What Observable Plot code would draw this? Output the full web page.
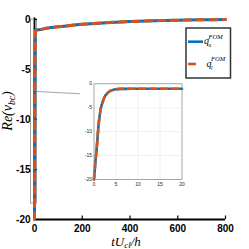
<!DOCTYPE html>
<html><head><meta charset="utf-8">
<script src="https://cdn.jsdelivr.net/npm/d3@7"></script>
<script src="https://cdn.jsdelivr.net/npm/@observablehq/plot@0.6"></script>
<style>
html,body{margin:0;padding:0;background:#fff;}
#wrap{position:relative;width:249px;height:249px;overflow:hidden;background:#fff;}
#wrap svg{position:absolute;}
</style></head><body><div id="wrap"></div>
<script>
const tVals  = [0, 0.25, 0.5, 0.75, 1, 1.25, 1.5, 2, 2.5, 3, 3.5, 4, 5, 6, 8, 10, 15, 20, 50, 100, 150, 200, 300, 400, 500, 600, 700, 800];
const quVals = [-20, -17.1, -14.6, -12.0, -9.0, -6.9, -5.4, -3.7, -2.6, -2.0, -1.6, -1.38, -1.15, -1.07, -1.05, -1.04, -1.03, -1.02, -0.88, -0.72, -0.6, -0.48, -0.32, -0.2, -0.12, -0.07, -0.03, -0.01];
const qlVals = [-20, -17.1, -14.6, -12.0, -9.0, -6.9, -5.4, -3.7, -2.6, -2.0, -1.6, -1.38, -1.15, -1.07, -1.05, -1.04, -1.03, -1.02, -0.88, -0.72, -0.6, -0.48, -0.32, -0.2, -0.12, -0.07, -0.03, -0.01];
const xTicks = [0, 200, 400, 600, 800];
const yTicks = [0, -5, -10, -15, -20];
const insetXTicks = [0, 5, 10, 15, 20];
const insetYTicks = [0, -5, -10, -15, -20];
const insetGridX = [5, 10, 15];
const insetGridY = [-5, -10, -15];
const legendSubs = ["u", "l"];
const legendSup = "FOM";
const zoomBox = [{t1: -15, t2: 10, v1: -18.4, v2: 0}];
const connT = [10, 248];
const connV = [-7.2, -7.5];

const blue = "#0072BD", orange = "#D95319";
const data = tVals.map((t, i) => ({t, qu: quVals[i], ql: qlVals[i]}));
const insetData = data.filter(d => d.t <= 20);
const conn = connT.map((t, i) => ({t, v: connV[i]}));

const wrap = document.getElementById("wrap");

const main = Plot.plot({
  width: 249, height: 249,
  marginLeft: 34, marginRight: 24, marginTop: 19, marginBottom: 30,
  style: {fontFamily: "Liberation Sans, Arial, sans-serif", fontSize: "10px", fontWeight: "bold", color: "#000", background: "transparent"},
  x: {domain: [0, 800]},
  y: {domain: [-20, 0]},
  marks: [
    Plot.rect(zoomBox, {x1: "t1", x2: "t2", y1: "v1", y2: "v2", fill: "none", stroke: "#8c8c8c", strokeWidth: 0.8}),
    Plot.line(conn, {x: "t", y: "v", stroke: "#8c8c8c", strokeWidth: 0.8}),
    Plot.ruleY([-20], {stroke: "#000", strokeWidth: 1.8}),
    Plot.ruleX([0], {stroke: "#000", strokeWidth: 1.8, y1: -20, y2: 0.15}),
    Plot.ruleY(yTicks, {y: d => d, x1: 0, x2: 12, stroke: "#000", strokeWidth: 1.2}),
    Plot.ruleX(xTicks, {x: d => d, y1: -20, y2: -19.65, stroke: "#000", strokeWidth: 1.2}),
    Plot.line(data, {x: "t", y: "qu", stroke: blue, strokeWidth: 3, curve: "monotone-x"}),
    Plot.line(data, {x: "t", y: "ql", stroke: orange, strokeWidth: 3, strokeDasharray: "7,6", curve: "monotone-x"}),
    Plot.axisX({ticks: xTicks, tickSize: 0, tickPadding: 5, tickFormat: d => String(d), label: null}),
    Plot.axisY({ticks: yTicks, tickSize: 0, tickPadding: 4, tickFormat: d => String(d), label: null})
  ]
});
main.style.left = "0px"; main.style.top = "0px";
wrap.appendChild(main);

const svg = d3.select(main);
const serif = "Liberation Serif, 'Times New Roman', serif";
// y label
const yl = svg.append("text")
  .attr("transform", "translate(12,111) rotate(-90)")
  .attr("text-anchor", "middle")
  .attr("font-family", serif).attr("font-style", "italic")
  .attr("font-weight", "normal").attr("font-size", 14).attr("fill", "#000");
yl.append("tspan").text("Re(");
yl.append("tspan").text("v");
yl.append("tspan").attr("font-size", 9.5).attr("dy", 3).text("bc");
yl.append("tspan").attr("dy", -3).text(")");
// x label
const xl = svg.append("text")
  .attr("x", 126).attr("y", 245.5)
  .attr("text-anchor", "middle")
  .attr("font-family", serif).attr("font-style", "italic")
  .attr("font-weight", "normal").attr("font-size", 13).attr("fill", "#000");
xl.append("tspan").text("tU");
xl.append("tspan").attr("font-size", 9).attr("dy", 2.5).text("cl");
xl.append("tspan").attr("dy", -2.5).text("/h");

// inset
const inset = Plot.plot({
  width: 110, height: 115,
  marginLeft: 13.5, marginRight: 8.5, marginTop: 8.3, marginBottom: 11,
  style: {fontFamily: "Liberation Sans, Arial, sans-serif", fontSize: "5px", color: "#262626", background: "#fff"},
  x: {domain: [0, 20]},
  y: {domain: [-20, 0]},
  marks: [
    Plot.ruleX(insetGridX, {stroke: "#e6e6e6", strokeWidth: 0.6}),
    Plot.ruleY(insetGridY, {stroke: "#e6e6e6", strokeWidth: 0.6}),
    Plot.line(insetData, {x: "t", y: "qu", stroke: blue, strokeWidth: 2.6, curve: "monotone-x"}),
    Plot.line(insetData, {x: "t", y: "ql", stroke: orange, strokeWidth: 2.6, strokeDasharray: "6,5", curve: "monotone-x"}),
    Plot.frame({stroke: "#7f7f7f", strokeWidth: 0.7}),
    Plot.axisX({ticks: insetXTicks, tickSize: 0, tickPadding: 2.5, tickFormat: d => String(d), label: null}),
    Plot.axisY({ticks: insetYTicks, tickSize: 0, tickPadding: 2, tickFormat: d => String(d), label: null})
  ]
});
inset.style.left = "80px"; inset.style.top = "75px";
wrap.appendChild(inset);

// legend (drawn in an overlay svg)
const legSvg = d3.select(wrap).append("svg")
  .attr("width", 249).attr("height", 249)
  .style("left", "0px").style("top", "0px").style("pointer-events", "none");
legSvg.append("rect").attr("x", 186).attr("y", 28).attr("width", 44.5).attr("height", 50)
  .attr("fill", "#fff").attr("stroke", "#333").attr("stroke-width", 1.5);
const legY = [41.7, 64];
const legColors = [blue, orange];
const legX2 = [203, 196];
const legQX = [204, 206.5];
legendSubs.forEach((s, i) => {
  legSvg.append("line").attr("x1", 188).attr("x2", legX2[i]).attr("y1", legY[i]).attr("y2", legY[i])
    .attr("stroke", legColors[i]).attr("stroke-width", 2.6);
  legSvg.append("text").attr("x", legQX[i]).attr("y", legY[i] + 2.5)
    .attr("font-family", serif).attr("font-style", "italic").attr("font-size", 10).text("q");
  legSvg.append("text").attr("x", legQX[i] + 4.5).attr("y", legY[i] - 3)
    .attr("font-family", serif).attr("font-style", "italic").attr("font-size", 6.5).text(legendSup);
  legSvg.append("text").attr("x", legQX[i] + 4.5).attr("y", legY[i] + 5.5)
    .attr("font-family", serif).attr("font-style", "italic").attr("font-size", 5.5).text(s);
});
</script></body></html>
